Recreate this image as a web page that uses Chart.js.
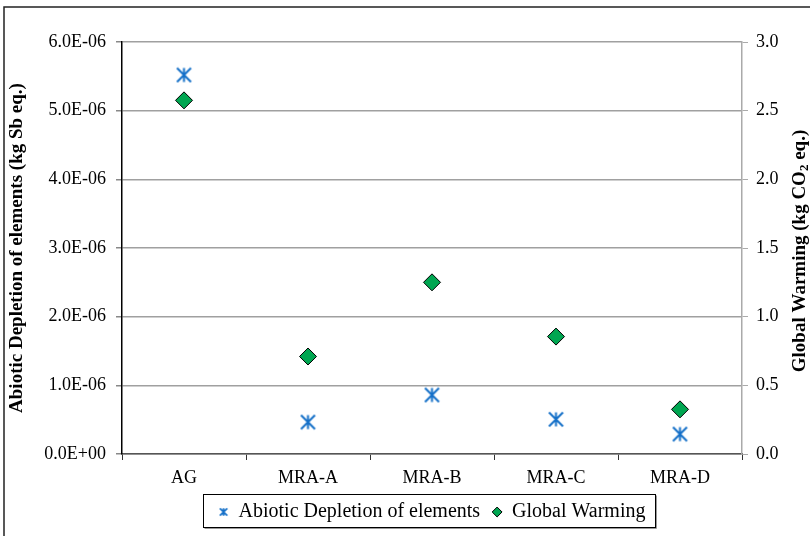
<!DOCTYPE html>
<html>
<head>
<meta charset="utf-8">
<script src="https://cdn.jsdelivr.net/npm/chart.js@4.4.1/dist/chart.umd.min.js"></script>
<style>
  html, body { margin: 0; padding: 0; background: #fff; }
  #wrap { width: 810px; height: 536px; }
</style>
</head>
<body>
<div id="wrap"><canvas id="c" width="810" height="536"></canvas></div>
<script>
// Impact categories per scenario
const categories = ['AG', 'MRA-A', 'MRA-B', 'MRA-C', 'MRA-D'];
const abioticDepletion = [5.52e-6, 0.465e-6, 0.86e-6, 0.505e-6, 0.29e-6]; // kg Sb eq.
const globalWarming = [2.575, 0.71, 1.25, 0.855, 0.325];                  // kg CO2 eq.
const seriesNames = ['Abiotic Depletion of elements', 'Global Warming'];
const leftTitle = 'Abiotic Depletion of elements (kg Sb eq.)';
const rightTitleParts = ['Global Warming (kg CO', '2', ' eq.)'];

const SERIF = '"Liberation Serif", "Times New Roman", serif';
const BLUE = '#1570c8';
const GREEN = '#00a651';

// Asterisk marker: vertical bar plus an X
function asterisk(size, lw) {
  const cv = document.createElement('canvas');
  cv.width = size; cv.height = size;
  const g = cv.getContext('2d');
  g.strokeStyle = BLUE;
  g.lineWidth = lw;
  const m = lw / 2 + 0.5, s = size;
  g.beginPath();
  g.moveTo(s / 2, m); g.lineTo(s / 2, s - m);
  g.moveTo(m, m); g.lineTo(s - m, s - m);
  g.moveTo(s - m, m); g.lineTo(m, s - m);
  g.stroke();
  return cv;
}
const starBig = asterisk(17, 2);
const starSmall = asterisk(10, 1.7);

function sci(v) {
  if (Math.abs(v) < 1e-15) return '0.0E+00';
  const e = Math.floor(Math.log10(Math.abs(v)) + 1e-9);
  const m = v / Math.pow(10, e);
  return m.toFixed(1) + 'E' + (e < 0 ? '-' : '+') + String(Math.abs(e)).padStart(2, '0');
}

// Page frame and white background
const framePlugin = {
  id: 'frame',
  beforeDraw(chart) {
    const ctx = chart.ctx;
    ctx.save();
    ctx.fillStyle = '#fff';
    ctx.fillRect(0, 0, chart.width, chart.height);
    ctx.strokeStyle = '#222';
    ctx.lineWidth = 1.5;
    ctx.strokeRect(4, 7, chart.width + 10, chart.height + 10);
    ctx.restore();
  }
};

// Right-hand axis title (reads bottom-to-top, with subscript)
const rightTitlePlugin = {
  id: 'rightTitle',
  afterDraw(chart) {
    const ctx = chart.ctx;
    const area = chart.chartArea;
    const big = 'bold 19px ' + SERIF, small = 'bold 13px ' + SERIF;
    ctx.save();
    ctx.font = big;
    const w1 = ctx.measureText(rightTitleParts[0]).width;
    const w3 = ctx.measureText(rightTitleParts[2]).width;
    ctx.font = small;
    const w2 = ctx.measureText(rightTitleParts[1]).width;
    const total = w1 + w2 + w3;
    ctx.translate(800, (area.top + area.bottom) / 2 + 3);
    ctx.rotate(-Math.PI / 2);
    ctx.fillStyle = '#000';
    ctx.textBaseline = 'middle';
    ctx.textAlign = 'left';
    let x = -total / 2;
    ctx.font = big; ctx.fillText(rightTitleParts[0], x, 0); x += w1;
    ctx.font = small; ctx.fillText(rightTitleParts[1], x, 5); x += w2;
    ctx.font = big; ctx.fillText(rightTitleParts[2], x, 0);
    ctx.restore();
  }
};

// Border around the legend items
const legendBoxPlugin = {
  id: 'legendBox',
  afterDraw(chart) {
    const lg = chart.legend;
    if (!lg || !lg.legendHitBoxes || !lg.legendHitBoxes.length) return;
    const hb = lg.legendHitBoxes;
    let l = Infinity, r = -Infinity, t = Infinity, b = -Infinity;
    hb.forEach(h => {
      l = Math.min(l, h.left); r = Math.max(r, h.left + h.width);
      t = Math.min(t, h.top); b = Math.max(b, h.top + h.height);
    });
    const ctx = chart.ctx;
    ctx.save();
    ctx.strokeStyle = '#000';
    ctx.lineWidth = 1;
    const x0 = Math.round(l - 16) + 0.5, x1 = Math.round(r + 10) + 0.5;
    const y0 = Math.round(t - 8) + 0.5, y1 = Math.round(b + 5) + 0.5;
    ctx.strokeRect(x0, y0, x1 - x0, y1 - y0);
    ctx.strokeStyle = '#999';
    ctx.beginPath();
    ctx.moveTo(x0 + 1, y1 + 1); ctx.lineTo(x1 + 1, y1 + 1); ctx.lineTo(x1 + 1, y0 + 1);
    ctx.stroke();
    ctx.restore();
  }
};

new Chart(document.getElementById('c'), {
  type: 'line',
  data: {
    labels: categories,
    datasets: [
      {
        label: seriesNames[0],
        data: abioticDepletion,
        yAxisID: 'y',
        showLine: false,
        pointStyle: starBig,
        pointRadius: 8.5,
        borderColor: BLUE,
        backgroundColor: BLUE
      },
      {
        label: seriesNames[1],
        data: globalWarming,
        yAxisID: 'y2',
        showLine: false,
        pointStyle: 'rectRot',
        pointRadius: 8.5,
        borderWidth: 1,
        borderColor: '#000',
        backgroundColor: GREEN
      }
    ]
  },
  options: {
    responsive: false,
    animation: false,
    events: [],
    layout: { padding: { top: 42, left: 0, right: 0, bottom: 4 } },
    scales: {
      x: {
        type: 'category',
        offset: true,
        afterFit(s) { s.height = 36; },
        grid: { display: true, drawOnChartArea: false, offset: true, tickLength: 6, tickColor: '#333' },
        border: { color: '#555', width: 1.5 },
        ticks: { color: '#000', font: { family: SERIF, size: 18 }, padding: 7, maxRotation: 0 }
      },
      y: {
        position: 'left',
        min: 0, max: 6e-6,
        afterFit(s) { s.width = 122; },
        grid: { color: '#a0a0a0', lineWidth: 1.5, tickLength: 6, tickColor: '#888' },
        border: { color: '#000', width: 1.5 },
        ticks: { stepSize: 1e-6, color: '#000', font: { family: SERIF, size: 18 }, padding: 10, callback: v => sci(v) },
        title: { display: true, text: leftTitle, color: '#000', font: { family: SERIF, size: 19, weight: 'bold' }, padding: { top: 6, bottom: 0 } }
      },
      y2: {
        position: 'right',
        min: 0, max: 3,
        afterFit(s) { s.width = 68; },
        grid: { drawOnChartArea: false, tickLength: 6, tickColor: '#aaa' },
        border: { color: '#aaa', width: 1.5 },
        ticks: { stepSize: 0.5, color: '#000', font: { family: SERIF, size: 18 }, padding: 8, callback: v => v.toFixed(1) }
      }
    },
    plugins: {
      tooltip: { enabled: false },
      legend: {
        position: 'bottom',
        fullSize: false,
        labels: {
          usePointStyle: true,
          boxHeight: 7,
          boxWidth: 10,
          padding: 12,
          color: '#000',
          font: { family: SERIF, size: 20 },
          generateLabels(chart) {
            const items = Chart.defaults.plugins.legend.labels.generateLabels(chart);
            items[0].pointStyle = starSmall;
            items[1].pointStyle = 'rectRot';
            items[1].fillStyle = GREEN;
            items[1].strokeStyle = '#000';
            items[1].lineWidth = 1;
            return items;
          }
        }
      }
    }
  },
  plugins: [framePlugin, rightTitlePlugin, legendBoxPlugin]
});
</script>
</body>
</html>
